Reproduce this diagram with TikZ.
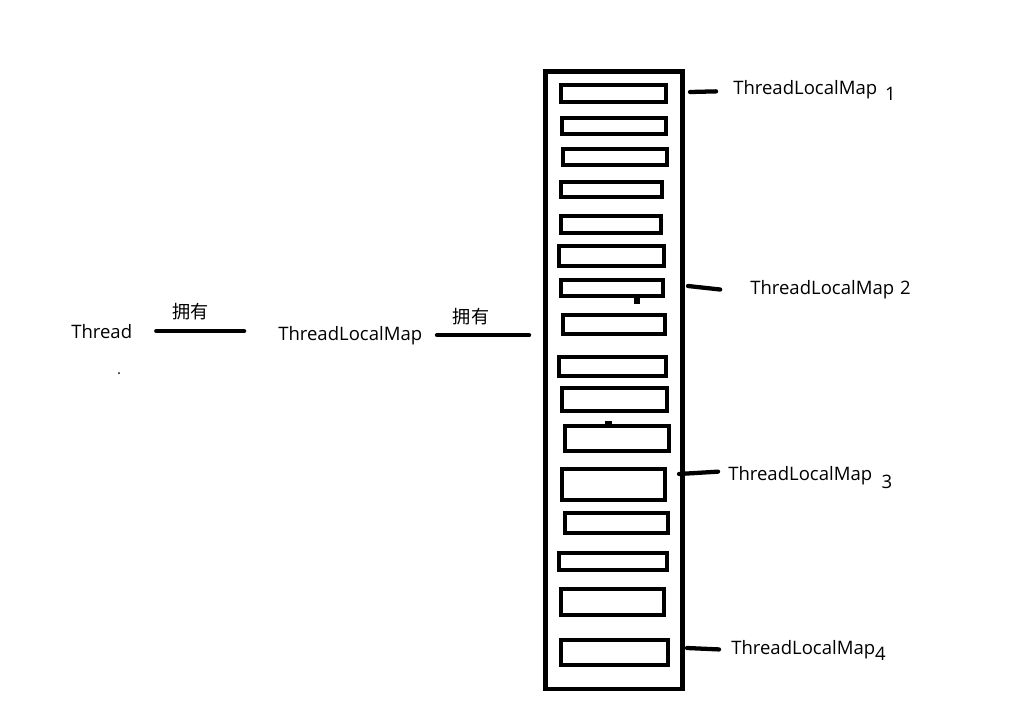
\documentclass[tikz,border=0pt]{standalone}
\usepackage{fontspec}
\setmainfont{Open Sans}
\newfontfamily\cjk{Noto Sans CJK SC}
\usetikzlibrary{fit}

\begin{document}
\begin{tikzpicture}[
  x=0.75pt, y=-0.75pt,
  font=\fontsize{13.9pt}{16pt}\selectfont,
  slot/.style={draw, line width=3.7pt, inner sep=0pt, outer sep=0pt},
  arraybox/.style={draw, line width=3.5pt, inner sep=0pt, outer sep=0pt},
  txt/.style={inner sep=0pt, anchor=base west},
  own/.style={inner sep=0pt, font=\cjk\fontsize{13.6pt}{16pt}\selectfont},
  link/.style={line width=3.4pt, line cap=round},
  tick/.style={line width=3.2pt, line cap=round}
]
\useasboundingbox (0,0) rectangle (1015,717);

\node[arraybox, fit={(545.5,71.5) (682.5,689)}] (arr) {};
\node[slot, fit={(561,85) (666,102)}]  (s1)  {};
\node[slot, fit={(562,118) (666,134)}] (s2)  {};
\node[slot, fit={(563,149) (667,165)}] (s3)  {};
\node[slot, fit={(561,182) (662,197)}] (s4)  {};
\node[slot, fit={(561,216) (661,233)}] (s5)  {};
\node[slot, fit={(559,246) (664,266)}] (s6)  {};
\node[slot, fit={(561,280) (663,296)}] (s7)  {};
\node[slot, fit={(563,315) (665,334)}] (s8)  {};
\node[slot, fit={(559,357) (666,376)}] (s9)  {};
\node[slot, fit={(562,388) (667,411)}] (s10) {};
\node[slot, fit={(565,426) (669,451)}] (s11) {};
\node[slot, fit={(562,469) (665,500)}] (s12) {};
\node[slot, fit={(565,513) (668,533)}] (s13) {};
\node[slot, fit={(559,553) (667,570)}] (s14) {};
\node[slot, fit={(561,589) (664,615)}] (s15) {};
\node[slot, fit={(561,640) (668,665)}] (s16) {};
\fill (634,298) rectangle (640,304);
\fill (605,421) rectangle (612,424);

\node[txt] (thread) at (71,338) {Thread};
\node[txt] (tlm) at (278,340) {ThreadLocalMap};
\node[own] (own1) at (190.5,311.5) {拥有};
\node[own] (own2) at (471,316.5) {拥有};
\fill (119,373) circle (1);

\draw[link, shorten <=18pt, shorten >=25.5pt] (thread.east) -- (thread.east -| tlm.west);
\draw[link, shorten <=11pt, shorten >=12.4pt] (tlm.east) -- (tlm.east -| arr.west);

\node[txt] (lab1) at (733,95)  {ThreadLocalMap\hspace{6pt}\raisebox{-4.5pt}{1}};
\node[txt] (lab2) at (750,294) {ThreadLocalMap\hspace{4.5pt}2};
\node[txt] (lab3) at (728,480) {ThreadLocalMap\hspace{7pt}\raisebox{-6pt}{3}};
\node[txt] (lab4) at (731,654) {ThreadLocalMap\raisebox{-4.5pt}{4}};

\coordinate (a1) at (690,92);
\coordinate (a2) at (688,286);
\coordinate (a3) at (679,474);
\coordinate (a4) at (687,648);
\draw[tick, shorten >=12.7pt] (a1) -- (lab1.west);
\draw[tick, shorten >=22.5pt] (a2) -- ([yshift=-2.7pt]lab2.west);
\draw[tick, shorten >=7.5pt]  (a3) -- ([yshift=4.5pt]lab3.west);
\draw[tick, shorten >=9pt]    (a4) -- (lab4.west);
\end{tikzpicture}
\end{document}
